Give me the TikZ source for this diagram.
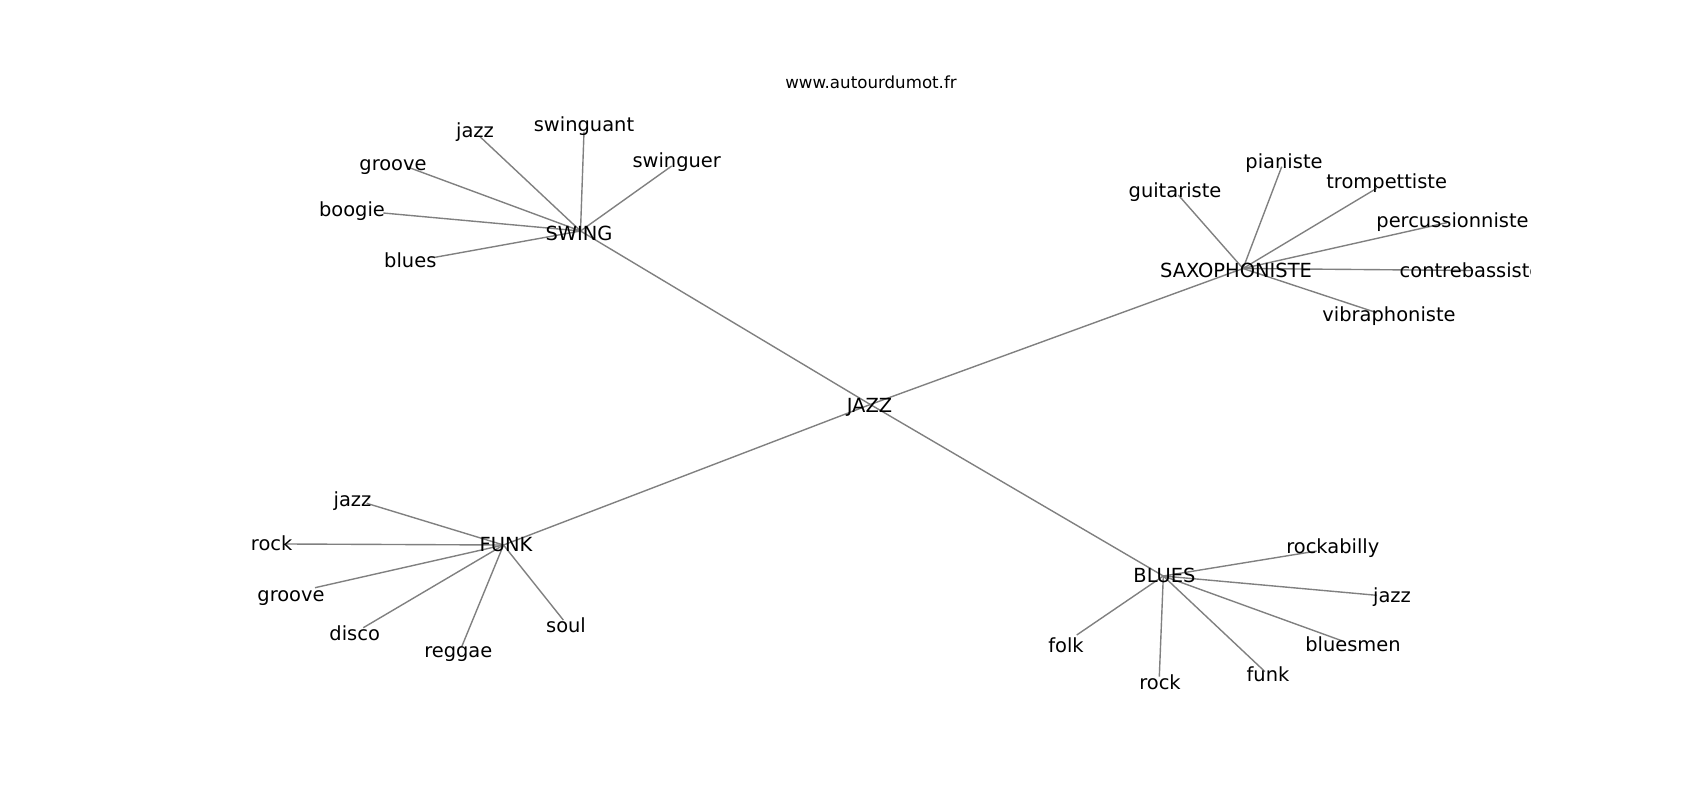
\documentclass[tikz,border=0pt]{standalone}
\usepackage{fontspec}
\setmainfont{DejaVu Sans}
\begin{document}
\begin{tikzpicture}[x=0.72pt,y=-0.72pt,
  edge/.style={draw=black!50, line width=1pt},
  lbl/.style={font=\fontsize{14}{16}\selectfont, inner sep=0pt, anchor=base, text=black, yshift=-0.9pt},
  ttl/.style={font=\fontsize{12}{14}\selectfont, inner sep=0pt, anchor=base, text=black, yshift=-0.9pt}]
\path[use as bounding box, fill=white] (0,0) rectangle (1700,800);

% hub points
\coordinate (JAZZ) at (870.3,404.5);
\coordinate (SWING) at (580.5,231);
\coordinate (SAXO) at (1243,268.5);
\coordinate (FUNK) at (503.5,545);
\coordinate (BLUES) at (1163.3,576);

% SWING leaves
\coordinate (sw-jazz) at (480,136.7);
\coordinate (sw-swinguant) at (584,131.7);
\coordinate (sw-swinguer) at (671.7,166);
\coordinate (sw-groove) at (407.5,167);
\coordinate (sw-boogie) at (383.3,213);
\coordinate (sw-blues) at (435,257.3);
% SAXO leaves
\coordinate (sx-guitariste) at (1178.3,195);
\coordinate (sx-pianiste) at (1281.7,166.7);
\coordinate (sx-trompettiste) at (1376.7,188.3);
\coordinate (sx-percussionniste) at (1446.7,222.7);
\coordinate (sx-contrebassiste) at (1473,270.5);
\coordinate (sx-vibraphoniste) at (1376.7,312.7);
% FUNK leaves
\coordinate (fk-jazz) at (366.7,503.3);
\coordinate (fk-rock) at (286.7,544);
\coordinate (fk-groove) at (315,587.7);
\coordinate (fk-disco) at (363.3,627.7);
\coordinate (fk-reggae) at (461.7,646.7);
\coordinate (fk-soul) at (563.3,620);
% BLUES leaves
\coordinate (bl-rockabilly) at (1316.7,551);
\coordinate (bl-jazz) at (1376.7,595.3);
\coordinate (bl-bluesmen) at (1341.7,640.7);
\coordinate (bl-funk) at (1265,671.7);
\coordinate (bl-rock) at (1159.3,676.7);
\coordinate (bl-folk) at (1076.7,635);

% edges
\foreach \h in {SWING,SAXO,FUNK,BLUES} \draw[edge] (JAZZ) -- (\h);
\foreach \l in {jazz,swinguant,swinguer,groove,boogie,blues} \draw[edge] (SWING) -- (sw-\l);
\foreach \l in {guitariste,pianiste,trompettiste,percussionniste,contrebassiste,vibraphoniste} \draw[edge] (SAXO) -- (sx-\l);
\foreach \l in {jazz,rock,groove,disco,reggae,soul} \draw[edge] (FUNK) -- (fk-\l);
\foreach \l in {rockabilly,jazz,bluesmen,funk,rock,folk} \draw[edge] (BLUES) -- (bl-\l);

% labels
\begin{scope}
\clip (212.5,96) rectangle (1530,712);
\node[lbl] (tJAZZ) at (869.5,411.7) {JAZZ};
\node[lbl] (tSWING) at (579,239.3) {SWING};
\node[lbl] (tSAXO) at (1236,276) {SAXOPHONISTE};
\node[lbl] (tFUNK) at (506,550.7) {FUNK};
\node[lbl] (tBLUES) at (1164.5,581.7) {BLUES};

\node[lbl] (t-sw-jazz) at (475,136.7) {jazz};
\node[lbl] (t-sw-swinguant) at (584,130) {swinguant};
\node[lbl] (t-sw-swinguer) at (676.7,166.7) {swinguer};
\node[lbl] (t-sw-groove) at (393,169.3) {groove};
\node[lbl] (t-sw-boogie) at (352,215) {boogie};
\node[lbl] (t-sw-blues) at (410.3,266.7) {blues};

\node[lbl] (t-sx-guitariste) at (1175,196) {guitariste};
\node[lbl] (t-sx-pianiste) at (1284,167.7) {pianiste};
\node[lbl] (t-sx-trompettiste) at (1386.7,187.3) {trompettiste};
\node[lbl] (t-sx-percussionniste) at (1452.5,226) {percussionniste};
\node[lbl] (t-sx-contrebassiste) at (1470.5,276.7) {contrebassiste};
\node[lbl] (t-sx-vibraphoniste) at (1389,320.7) {vibraphoniste};

\node[lbl] (t-fk-jazz) at (352.5,505) {jazz};
\node[lbl] (t-fk-rock) at (271.7,549) {rock};
\node[lbl] (t-fk-groove) at (291,600) {groove};
\node[lbl] (t-fk-disco) at (354.7,639) {disco};
\node[lbl] (t-fk-reggae) at (458.3,656.7) {reggae};
\node[lbl] (t-fk-soul) at (566,631) {soul};

\node[lbl] (t-bl-rockabilly) at (1332.8,552.3) {rockabilly};
\node[lbl] (t-bl-jazz) at (1392,601.7) {jazz};
\node[lbl] (t-bl-bluesmen) at (1353,650.7) {bluesmen};
\node[lbl] (t-bl-funk) at (1268,680) {funk};
\node[lbl] (t-bl-rock) at (1160,688.3) {rock};
\node[lbl] (t-bl-folk) at (1066,651.7) {folk};
\end{scope}

\node[ttl] (title) at (871,87.3) {www.autourdumot.fr};
\end{tikzpicture}
\end{document}
